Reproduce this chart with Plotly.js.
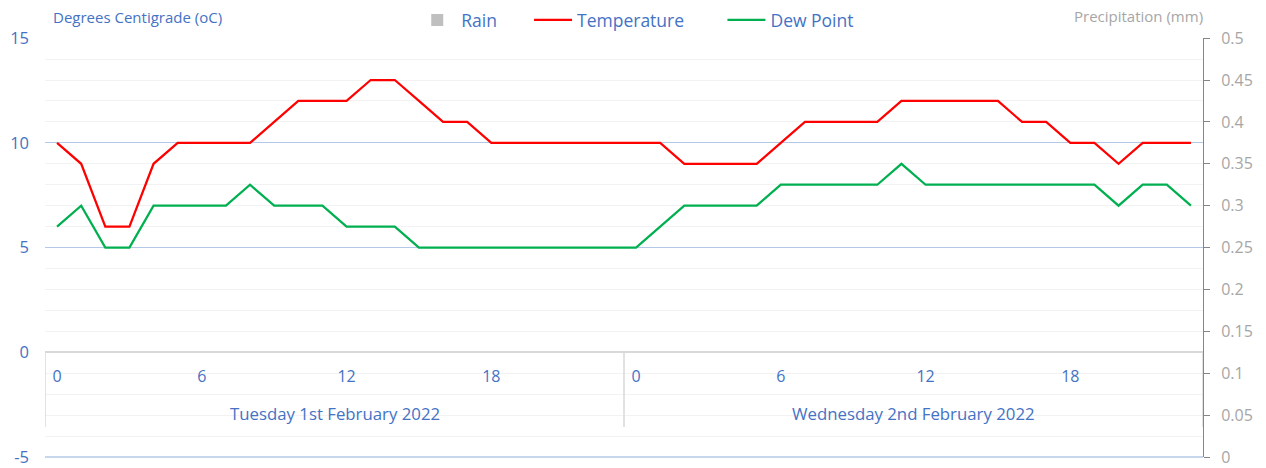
<!DOCTYPE html>
<html><head><meta charset="utf-8">
<script src="https://cdn.plot.ly/plotly-3.0.1.min.js"></script>
<style>html,body{margin:0;padding:0;background:#fff}</style>
</head><body><div id="chart" style="width:1266px;height:468px"></div>
<script>
// hour slots across the two days (0 = Tue 00:00 ... 47 = Wed 23:00)
const hourSlot = [0,1,2,3,4,5,6,7,8,9,10,11,12,13,14,15,16,17,18,19,20,21,22,23,
                  24,25,26,27,28,29,30,31,32,33,34,35,36,37,38,39,40,41,42,43,44,45,46,47];
const temperature = [10,9,6,6,9,10,10,10,10,11,12,12,12,13,13,12,11,11,10,10,10,10,10,10,
                     10,10,9,9,9,9,10,11,11,11,11,12,12,12,12,12,11,11,10,10,9,10,10,10];
const dewPoint = [6,7,5,5,7,7,7,7,8,7,7,7,6,6,6,5,5,5,5,5,5,5,5,5,
                  5,6,7,7,7,7,8,8,8,8,8,9,8,8,8,8,8,8,8,8,7,8,8,7];
const rain = [0,0,0,0,0,0,0,0,0,0,0,0,0,0,0,0,0,0,0,0,0,0,0,0,
              0,0,0,0,0,0,0,0,0,0,0,0,0,0,0,0,0,0,0,0,0,0,0,0];
const hourTickVals = [0,6,12,18,24,30,36,42];
const hourTickText = ['0','6','12','18','0','6','12','18'];
const dayLabels = ['Tuesday 1st February 2022','Wednesday 2nd February 2022'];
const dayCenters = [11.5,35.5];
const daySeparators = [-0.5,23.5,47.5];
const leftTickVals = [-5,0,5,10,15];
const leftTickText = ['-5','0','5','10','15'];
const rightTickVals = [0,0.05,0.1,0.15,0.2,0.25,0.3,0.35,0.4,0.45,0.5];
const rightTickText = ['0','0.05','0.1','0.15','0.2','0.25','0.3','0.35','0.4','0.45','0.5'];

const FONT = 'Open Sans, Noto Sans, sans-serif';
const BLUE = '#4472c4';
const GREY = '#a6a6a6';

const traces = [
  {type:'bar', name:'Rain', x:hourSlot, y:rain, yaxis:'y2', legend:'legend',
   marker:{color:'#bfbfbf', line:{color:'#a6a6a6', width:0}}},
  {type:'scatter', mode:'lines', name:'Temperature', x:hourSlot, y:temperature, legend:'legend2',
   line:{color:'#ff0000', width:2.25}},
  {type:'scatter', mode:'lines', name:'Dew Point', x:hourSlot, y:dewPoint, legend:'legend3',
   line:{color:'#00b050', width:2.25}}
];

const shapes = daySeparators.map(v => ({
  type:'line', xref:'x', yref:'y', x0:v, x1:v, y0:0, y1:-3.57,
  line:{color:'#d9d9d9', width:1.5}, layer:'above'
}));
// bottom (-5) major gridline sits on the plot edge
shapes.push({type:'line', xref:'paper', yref:'paper', x0:0, x1:1, y0:0, y1:0,
  line:{color:'#b4c7e7', width:1.5}, layer:'below'});

const annotations = dayLabels.map((t,i) => ({
  text:t, x:dayCenters[i], y:-2.93, xref:'x', yref:'y', showarrow:false,
  xanchor:'center', yanchor:'middle', font:{family:FONT, size:16.8, color:BLUE}
}));
annotations.push({text:'Degrees Centigrade (oC)', xref:'paper', yref:'paper', x:0.005, y:1.05,
  xanchor:'left', yanchor:'middle', showarrow:false, font:{family:FONT, size:15, color:BLUE}});
annotations.push({text:'Precipitation (mm)', xref:'paper', yref:'paper', x:1.002, y:1.052,
  xanchor:'right', yanchor:'middle', showarrow:false, font:{family:FONT, size:15, color:GREY}});

const legendBase = {orientation:'h', xanchor:'left', yanchor:'middle', yref:'container', y:0.957,
  bgcolor:'rgba(0,0,0,0)', borderwidth:0, itemwidth:38,
  font:{family:FONT, size:17.5, color:BLUE}, itemclick:false};

const layout = {
  width:1266, height:468,
  margin:{l:45, r:63, t:37, b:11, pad:0},
  paper_bgcolor:'#ffffff', plot_bgcolor:'#ffffff',
  font:{family:FONT},
  showlegend:true,
  legend:Object.assign({}, legendBase, {x:0.318}),
  legend2:Object.assign({}, legendBase, {x:0.418}),
  legend3:Object.assign({}, legendBase, {x:0.585}),
  bargap:0.3,
  xaxis:{
    type:'linear', range:[-0.5,47.5], anchor:'free', position:0.25,
    showgrid:false, zeroline:false, showline:true, linecolor:'#d9d9d9', linewidth:2,
    tickmode:'array', tickvals:hourTickVals, ticktext:hourTickText, ticks:'',
    ticklabelstandoff:10, tickfont:{family:FONT, size:16, color:BLUE}
  },
  yaxis:{
    range:[-5,15], tickmode:'array', tickvals:leftTickVals, ticktext:leftTickText, ticks:'',
    showgrid:true, gridcolor:'#b4c7e7', gridwidth:1, zeroline:false, showline:false,
    minor:{dtick:1, showgrid:true, gridcolor:'#f2f2f2', gridwidth:1},
    ticklabelstandoff:15, tickfont:{family:FONT, size:16.5, color:BLUE}
  },
  yaxis2:{
    overlaying:'y', side:'right', range:[0,0.5], tickmode:'array',
    tickvals:rightTickVals, ticktext:rightTickText,
    showgrid:false, zeroline:false, showline:true, linecolor:'#868686', linewidth:1,
    ticks:'outside', ticklen:6, tickcolor:'#868686', tickwidth:1,
    ticklabelstandoff:8, tickfont:{family:FONT, size:16, color:GREY}
  },
  shapes:shapes,
  annotations:annotations
};

Plotly.newPlot('chart', traces, layout, {displayModeBar:false, staticPlot:true});
</script>
</body></html>
